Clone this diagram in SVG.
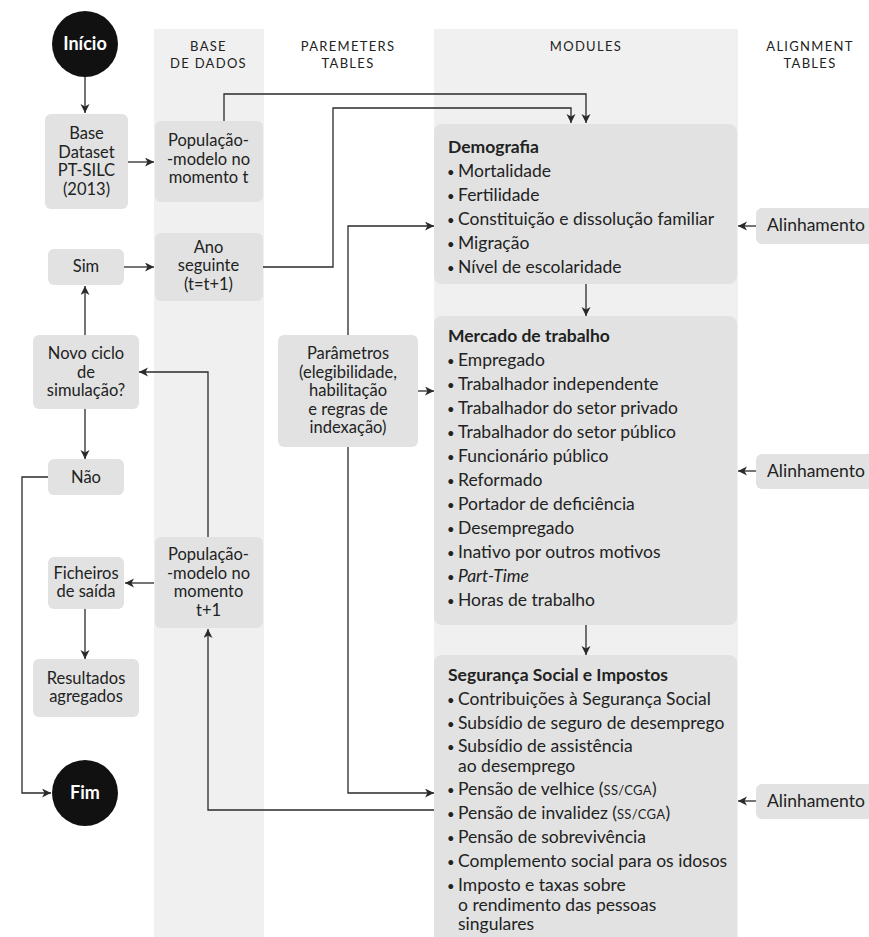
<svg xmlns="http://www.w3.org/2000/svg" width="869" height="937" viewBox="0 0 869 937">
<style>
text{font-family:Lato,"Noto Sans","Liberation Sans",sans-serif;fill:#222;font-size:16.5px}
.m{font-size:17.5px}
.bu{font-size:13px}
.hd{font-size:13px;letter-spacing:1.3px;text-anchor:middle;fill:#222}
.c{text-anchor:middle}
.b{font-weight:bold}
.box{fill:#e1e2e1}
.col{fill:#eff0ef}
.ln{fill:none;stroke:#2a2a2a;stroke-width:1.3;marker-end:url(#ah)}
.term{fill:#111}
.tt{fill:#fff;font-weight:bold;text-anchor:middle;font-size:18px}
.sc{font-size:13px;letter-spacing:0.3px}
</style>
<defs>
<marker id="ah" markerUnits="userSpaceOnUse" markerWidth="10" markerHeight="10" refX="9" refY="4.5" orient="auto">
<path d="M0,0 L9,4.5 L0,9 L2.5,4.5 z" fill="#2a2a2a"/>
</marker>
</defs>
<g id="columns">
<rect class="col" x="154" y="29" width="110" height="908"/>
<rect class="col" x="434" y="29" width="304" height="908"/>
</g>
<g id="headers">
<text class="hd" x="208.5" y="51">BASE</text>
<text class="hd" x="208.5" y="67.5">DE DADOS</text>
<text class="hd" x="348" y="51">PAREMETERS</text>
<text class="hd" x="348" y="67.5">TABLES</text>
<text class="hd" x="586" y="51">MODULES</text>
<text class="hd" x="810" y="51">ALIGNMENT</text>
<text class="hd" x="810" y="67.5">TABLES</text>
</g>
<g id="connectors">
<path class="ln" d="M85,77 V113"/>
<path class="ln" d="M128,162 H154"/>
<path class="ln" d="M224,121 V94 H586 V123"/>
<path class="ln" d="M263,267 H333 V108 H571 V123"/>
<path class="ln" d="M124,267 H154"/>
<path class="ln" d="M85,335 V286"/>
<path class="ln" d="M85,409 V459"/>
<path class="ln" d="M48,477 H22 V793 H51"/>
<path class="ln" d="M208,537 V372 H139"/>
<path class="ln" d="M154,583 H125"/>
<path class="ln" d="M85,609 V659"/>
<path class="ln" d="M434,810 H208 V629"/>
<path class="ln" d="M348,335 V226 H434"/>
<path class="ln" d="M348,447 V793 H434"/>
<path class="ln" d="M418,391 H434"/>
<path class="ln" d="M586,284 V316"/>
<path class="ln" d="M586,625 V655"/>
<path class="ln" d="M756,226 H738"/>
<path class="ln" d="M756,471 H738"/>
<path class="ln" d="M756,801 H738"/>
</g>
<g id="inicio">
<circle class="term" cx="85" cy="44" r="33"/>
<text class="tt" x="85" y="50">Início</text>
</g>
<g id="base-dataset">
<rect class="box" x="45" y="114" width="83" height="95" rx="6"/>
<text class="c" x="86.5" y="139">Base</text>
<text class="c" x="86.5" y="157.5">Dataset</text>
<text class="c" x="86.5" y="176">PT-SILC</text>
<text class="c" x="86.5" y="194.5">(2013)</text>
</g>
<g id="populacao-t">
<rect class="box" x="155" y="121" width="108" height="81" rx="6"/>
<text class="c" x="208.5" y="146">População-</text>
<text class="c" x="208.5" y="164.5">-modelo no</text>
<text class="c" x="208.5" y="183">momento t</text>
</g>
<g id="sim">
<rect class="box" x="48" y="249" width="76" height="36" rx="6"/>
<text class="c" x="86" y="272">Sim</text>
</g>
<g id="ano-seguinte">
<rect class="box" x="155" y="233" width="108" height="68" rx="6"/>
<text class="c" x="208.5" y="252.5">Ano</text>
<text class="c" x="208.5" y="271">seguinte</text>
<text class="c" x="208.5" y="290">(t=t+1)</text>
</g>
<g id="novo-ciclo">
<rect class="box" x="33" y="335" width="106" height="74" rx="6"/>
<text class="c" x="86" y="359">Novo ciclo</text>
<text class="c" x="86" y="377.5">de</text>
<text class="c" x="86" y="396">simulação?</text>
</g>
<g id="nao">
<rect class="box" x="48" y="459" width="76" height="36" rx="6"/>
<text class="c" x="86" y="483">Não</text>
</g>
<g id="parametros">
<rect class="box" x="278" y="335" width="140" height="112" rx="6"/>
<text class="c" x="348" y="359">Parâmetros</text>
<text class="c" x="348" y="377.5">(elegibilidade,</text>
<text class="c" x="348" y="396">habilitação</text>
<text class="c" x="348" y="414.5">e regras de</text>
<text class="c" x="348" y="433">indexação)</text>
</g>
<g id="populacao-t1">
<rect class="box" x="155" y="537" width="108" height="91" rx="6"/>
<text class="c" x="208.5" y="560">População-</text>
<text class="c" x="208.5" y="578.5">-modelo no</text>
<text class="c" x="208.5" y="597">momento</text>
<text class="c" x="208.5" y="615.5">t+1</text>
</g>
<g id="ficheiros">
<rect class="box" x="48" y="557" width="76" height="52" rx="6"/>
<text class="c" x="86" y="578.5">Ficheiros</text>
<text class="c" x="86" y="597">de saída</text>
</g>
<g id="resultados">
<rect class="box" x="33" y="659" width="106" height="58" rx="6"/>
<text class="c" x="86" y="683.5">Resultados</text>
<text class="c" x="86" y="702">agregados</text>
</g>
<g id="fim">
<circle class="term" cx="85" cy="793" r="33"/>
<text class="tt" x="85" y="799">Fim</text>
</g>
<g id="demografia">
<rect class="box" x="434" y="124" width="303" height="160" rx="8"/>
<text class="m b" x="448" y="152.5">Demografia</text>
<text class="bu" x="447" y="176.7">•</text><text class="m" x="458" y="176.7">Mortalidade</text>
<text class="bu" x="447" y="200.7">•</text><text class="m" x="458" y="200.7">Fertilidade</text>
<text class="bu" x="447" y="224.7">•</text><text class="m" x="458" y="224.7">Constituição e dissolução familiar</text>
<text class="bu" x="447" y="248.7">•</text><text class="m" x="458" y="248.7">Migração</text>
<text class="bu" x="447" y="272.7">•</text><text class="m" x="458" y="272.7">Nível de escolaridade</text>
</g>
<g id="mercado">
<rect class="box" x="434" y="316" width="303" height="309" rx="8"/>
<text class="m b" x="448" y="341.7">Mercado de trabalho</text>
<text class="bu" x="447" y="365.7">•</text><text class="m" x="458" y="365.7">Empregado</text>
<text class="bu" x="447" y="389.7">•</text><text class="m" x="458" y="389.7">Trabalhador independente</text>
<text class="bu" x="447" y="413.7">•</text><text class="m" x="458" y="413.7">Trabalhador do setor privado</text>
<text class="bu" x="447" y="437.7">•</text><text class="m" x="458" y="437.7">Trabalhador do setor público</text>
<text class="bu" x="447" y="461.7">•</text><text class="m" x="458" y="461.7">Funcionário público</text>
<text class="bu" x="447" y="485.7">•</text><text class="m" x="458" y="485.7">Reformado</text>
<text class="bu" x="447" y="509.7">•</text><text class="m" x="458" y="509.7">Portador de deficiência</text>
<text class="bu" x="447" y="533.7">•</text><text class="m" x="458" y="533.7">Desempregado</text>
<text class="bu" x="447" y="557.7">•</text><text class="m" x="458" y="557.7">Inativo por outros motivos</text>
<text class="bu" x="447" y="581.7">•</text><text class="m" x="458" y="581.7" font-style="italic">Part-Time</text>
<text class="bu" x="447" y="605.7">•</text><text class="m" x="458" y="605.7">Horas de trabalho</text>
</g>
<g id="seguranca">
<rect class="box" x="434" y="655" width="303" height="300" rx="8"/>
<text class="m b" x="448" y="681">Segurança Social e Impostos</text>
<text class="bu" x="447" y="705">•</text><text class="m" x="458" y="705">Contribuições à Segurança Social</text>
<text class="bu" x="447" y="729">•</text><text class="m" x="458" y="729">Subsídio de seguro de desemprego</text>
<text class="bu" x="447" y="752">•</text><text class="m" x="458" y="752">Subsídio de assistência</text>
<text class="m" x="458" y="771.5">ao desemprego</text>
<text class="bu" x="447" y="795">•</text><text class="m" x="458" y="795">Pensão de velhice (<tspan class="sc">SS/CGA</tspan>)</text>
<text class="bu" x="447" y="819">•</text><text class="m" x="458" y="819">Pensão de invalidez (<tspan class="sc">SS/CGA</tspan>)</text>
<text class="bu" x="447" y="843">•</text><text class="m" x="458" y="843">Pensão de sobrevivência</text>
<text class="bu" x="447" y="867">•</text><text class="m" x="458" y="867">Complemento social para os idosos</text>
<text class="bu" x="447" y="891">•</text><text class="m" x="458" y="891">Imposto e taxas sobre</text>
<text class="m" x="458" y="910.5">o rendimento das pessoas</text>
<text class="m" x="458" y="930">singulares</text>
</g>
<g id="alinhamento-1">
<rect class="box" x="756" y="208" width="125" height="36" rx="6"/>
<text class="m" x="767" y="231">Alinhamento</text>
</g>
<g id="alinhamento-2">
<rect class="box" x="756" y="454" width="125" height="35" rx="6"/>
<text class="m" x="767" y="477">Alinhamento</text>
</g>
<g id="alinhamento-3">
<rect class="box" x="756" y="784" width="125" height="35" rx="6"/>
<text class="m" x="767" y="807">Alinhamento</text>
</g>
</svg>
